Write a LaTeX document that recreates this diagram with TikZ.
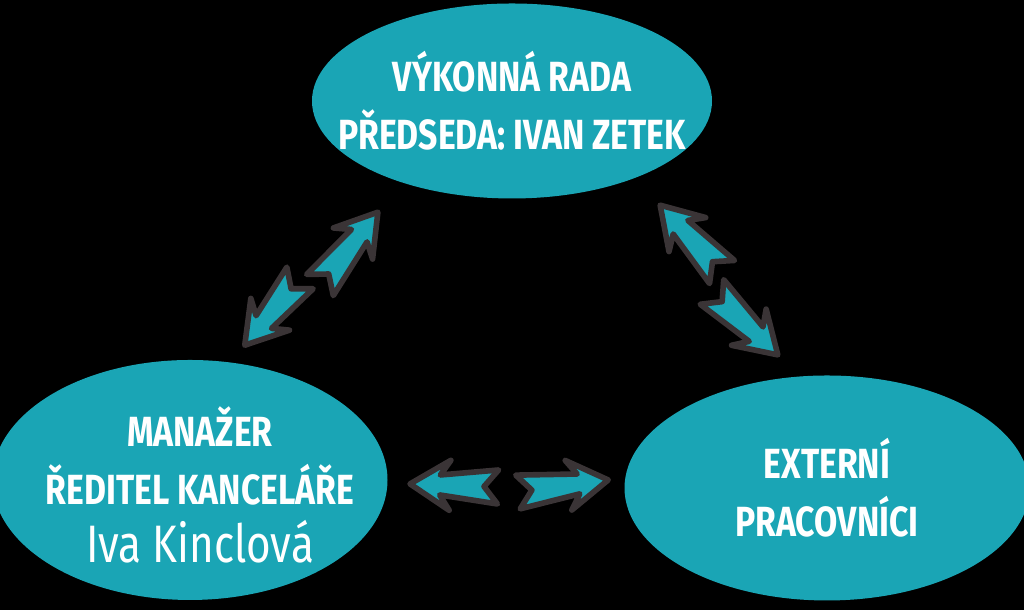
\documentclass[tikz,border=0pt]{standalone}
\usepackage{fontspec}
\setmainfont{Fira Sans}[FakeStretch=0.8]
\usetikzlibrary{shapes.geometric}
\definecolor{teal1}{HTML}{1AA5B5}
\definecolor{edge}{HTML}{3A3436}
\tikzset{
  blob/.style={ellipse,fill=teal1,inner sep=0pt},
  label/.style={text=white,align=center,inner sep=0pt,font=\bfseries\fontsize{12}{16.5}\selectfont},
  harrow/.style={fill=teal1,draw=edge,line width=1.6pt,line join=round}
}
\newcommand\halfarr[4]{% x y angle length (px coords)
  \draw[harrow,shift={(#1/100,6.10-#2/100)},rotate=#3]
    (0,0.17) -- (0.14,0) -- (0,-0.17) -- (#4-0.3,-0.1) -- (#4-0.4,-0.25) -- (#4,0)
    -- (#4-0.4,0.25) -- (#4-0.3,0.1) -- cycle;}
\begin{document}
\begin{tikzpicture}
\fill[black] (0,0) rectangle (10.24,6.10);
\useasboundingbox (0,0) rectangle (10.24,6.10);
\node[blob,minimum width=4.0cm,minimum height=1.95cm] (top) at (5.12,5.09) {};
\node[label] (toptext) at (top.center) {VÝKONNÁ RADA\\PŘEDSEDA: IVAN ZETEK};
\node[blob,minimum width=3.95cm,minimum height=2.4cm] (left) at (1.90,1.30) {};
\node[label] (lefttext) at (2.0,1.25) {MANAŽER\\ŘEDITEL KANCELÁŘE\\{\mdseries\fontsize{15}{18}\selectfont Iva Kinclová}};
\node[blob,minimum width=4.05cm,minimum height=2.25cm] (right) at (8.27,1.22) {};
\node[label] (righttext) at (right.center) {EXTERNÍ\\PRACOVNÍCI};
\halfarr{320}{285}{51.5}{0.93}
\halfarr{300}{278}{230.6}{0.87}
\halfarr{722}{272}{132.8}{0.91}
\halfarr{712}{292}{-43.7}{0.91}
\halfarr{498}{487}{178}{0.88}
\halfarr{518}{492}{7.6}{0.91}
\end{tikzpicture}
\end{document}
